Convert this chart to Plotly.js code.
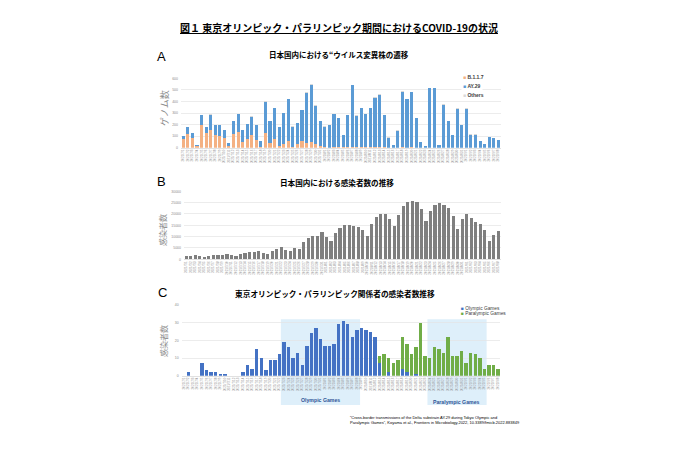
<!DOCTYPE html>
<html>
<head>
<meta charset="utf-8">
<script src="https://cdn.plot.ly/plotly-3.0.1.min.js"></script>
<style>html,body{margin:0;padding:0;background:#fff;}#chart{width:675px;height:450px;}</style>
</head>
<body>
<div id="chart"></div>
<script>
// ---- shared categories (one bar per day) ----
const dates = [
"2021/7/1","2021/7/2","2021/7/3","2021/7/4","2021/7/5","2021/7/6","2021/7/7","2021/7/8","2021/7/9","2021/7/10",
"2021/7/11","2021/7/12","2021/7/13","2021/7/14","2021/7/15","2021/7/16","2021/7/17","2021/7/18","2021/7/19","2021/7/20",
"2021/7/21","2021/7/22","2021/7/23","2021/7/24","2021/7/25","2021/7/26","2021/7/27","2021/7/28","2021/7/29","2021/7/30",
"2021/7/31","2021/8/1","2021/8/2","2021/8/3","2021/8/4","2021/8/5","2021/8/6","2021/8/7","2021/8/8","2021/8/9",
"2021/8/10","2021/8/11","2021/8/12","2021/8/13","2021/8/14","2021/8/15","2021/8/16","2021/8/17","2021/8/18","2021/8/19",
"2021/8/20","2021/8/21","2021/8/22","2021/8/23","2021/8/24","2021/8/25","2021/8/26","2021/8/27","2021/8/28","2021/8/29",
"2021/8/30","2021/8/31","2021/9/1","2021/9/2","2021/9/3","2021/9/4","2021/9/5","2021/9/6","2021/9/7","2021/9/8"];

// ---- Panel A: genomes by lineage ----
const b117 = [75,115,85,15,195,125,155,110,100,85, 18,115,135,50,75,110,65,5,125,40,
  75,18,32,60,5,30,55,40,50,35, 15,3,0,5,5,5,5,5,5,5, 5,5,5,5,5,0,0,0,5,0,
  10,0,0,0,0,0,0,0,0,0, 0,0,0,0,0,0,0,0,0,0];
const ay29 = [30,65,40,10,87,55,132,85,95,65, 22,115,157,100,130,157,130,50,271,187,
  266,159,264,360,177,182,271,435,495,326, 212,179,192,287,252,102,277,535,272,336,
  287,336,425,450,277,88,20,147,480,420, 470,257,50,15,515,515,25,371,227,108,
  337,197,337,113,113,60,35,93,86,68];
const others = [0,0,0,0,3,0,3,0,0,0, 0,0,3,0,0,3,0,0,4,3,
  4,3,4,5,3,3,4,5,5,4, 3,3,3,3,3,3,3,5,3,4, 3,4,5,5,3,2,0,3,5,5,
  5,3,0,0,5,5,0,4,3,2, 3,3,3,2,2,0,0,2,2,2];

// ---- Panel B: daily infections in Japan ----
const cases = [1620,1620,1760,1320,880,1470,2060,2060,2060,2200,
  1760,1320,2200,2940,3090,3090,3680,2790,2200,3530,
  4700,5290,3970,3530,4850,4560,7500,9560,10440,10440,
  12200,10000,8230,11760,13700,15000,15290,14850,14110,12790,
  10440,15580,18820,20140,19850,17640,14700,19700,23670,25140,
  25730,25280,22200,16760,21460,24110,24700,23810,22490,19260,
  13520,17640,19850,18080,16460,15730,12790,8090,10580,12350];

// ---- Panel C: Games-related infections ----
const olympic = [0,2,0,0,7,3,2,2,1,1, 0,0,0,2,6,4,15,10,3,9,
  9,12,19,16,10,13,6,17,24,27, 21,17,17,18,29,31,29,22,26,27,
  26,25,22,7,0,2,0,0,4,2, 0,1,0,0,0,0,0,0,0,0, 0,0,0,0,0,0,0,0,0,0];
const paralympic = [0,0,0,0,0,0,0,0,0,0, 0,0,0,0,0,0,0,0,0,0,
  0,0,0,0,0,0,0,0,0,0, 0,0,0,0,0,0,0,0,0,0,
  0,0,0,4,12,8,7,9,18,16, 12,15,30,11,10,16,15,13,22,11,
  11,14,7,13,12,10,4,6,6,4];

const yTicksA = [0,100,200,300,400,500,600];
const yTicksB = [0,5000,10000,15000,20000,25000,30000];
const yTicksC = [0,10,20,30,40];

const CJK = '"Noto Sans CJK JP", sans-serif';
const LAT = '"Liberation Sans", Arial, sans-serif';
const W = 675, H = 450;
const px = v => v / W, py = v => 1 - v / H;

const traces = [
  {type:'bar', name:'B.1.1.7', x:dates, y:b117, xaxis:'x', yaxis:'y', marker:{color:'#F4B183'}, width:0.68},
  {type:'bar', name:'AY.29', x:dates, y:ay29, xaxis:'x', yaxis:'y', marker:{color:'#5B9BD5'}, width:0.68},
  {type:'bar', name:'Others', x:dates, y:others, xaxis:'x', yaxis:'y', marker:{color:'#D9D9D9'}, width:0.68},
  {type:'bar', name:'感染者数', x:dates, y:cases, xaxis:'x2', yaxis:'y2', marker:{color:'#7F7F7F'}, width:0.7},
  {type:'bar', name:'Olympic Games', x:dates, y:olympic, xaxis:'x3', yaxis:'y3', marker:{color:'#4472C4'}, width:0.75},
  {type:'bar', name:'Paralympic Games', x:dates, y:paralympic, xaxis:'x3', yaxis:'y3', marker:{color:'#70AD47'}, width:0.75}
];

function xAxis(domain) {
  return {domain:domain, type:'category', range:[-0.5, dates.length-0.5], tickmode:'linear', tick0:0, dtick:1,
    tickangle:-90, tickfont:{size:3, color:'#8C8C8C', family:LAT}, ticks:'', showgrid:false,
    showline:true, linecolor:'#D9D9D9', linewidth:0.8, zeroline:false, automargin:false, fixedrange:true};
}
function yAxis(domain, ticks) {
  return {domain:domain, range:[ticks[0], ticks[ticks.length-1]], tickmode:'array', tickvals:ticks,
    ticktext:ticks.map(String),
    tickfont:{size:3.5, color:'#8C8C8C', family:LAT}, ticks:'', showgrid:true, gridcolor:'#E4E4E4', gridwidth:0.7,
    zeroline:false, showline:false, automargin:false, fixedrange:true, ticklabelstandoff:2};
}

const iOS = dates.indexOf('2021/7/23'), iOE = dates.indexOf('2021/8/8');
const iPS = dates.indexOf('2021/8/24'), iPE = dates.indexOf('2021/9/5');

const ann = (x, y, text, size, opts) => Object.assign({xref:'paper', yref:'paper', x:px(x), y:py(y), text:text,
  showarrow:false, font:{size:size, family:CJK, color:'#000'}, xanchor:'center', yanchor:'middle'}, opts||{});

const layout = {
  width:W, height:H, margin:{l:0,r:0,t:0,b:0}, paper_bgcolor:'#fff', plot_bgcolor:'rgba(0,0,0,0)',
  showlegend:false, barmode:'stack', bargap:0.3,
  xaxis: xAxis([px(181), px(500.6)]),
  yaxis: yAxis([py(147.7), py(78.3)], yTicksA),
  xaxis2: Object.assign(xAxis([px(184), px(500.6)]), {anchor:'y2'}),
  yaxis2: Object.assign(yAxis([py(259.3), py(191.3)], yTicksB), {anchor:'x2'}),
  xaxis3: Object.assign(xAxis([px(181.6), px(500.3)]), {anchor:'y3'}),
  yaxis3: Object.assign(yAxis([py(375.7), py(305)], yTicksC), {anchor:'x3'}),
  shapes: [
    {type:'rect', xref:'x3', yref:'paper', x0:iOS-0.7, x1:iOE+0.7, y0:py(405), y1:py(319.3),
      fillcolor:'#DEEFFA', line:{width:0}, layer:'below'},
    {type:'rect', xref:'x3', yref:'paper', x0:iPS-0.5, x1:iPE+0.5, y0:py(405), y1:py(319.3),
      fillcolor:'#DEEFFA', line:{width:0}, layer:'below'}
  ],
  annotations: [
    ann(339, 28, '<b><u>図１ 東京オリンピック・パラリンピック期間におけるCOVID-19の状況</u></b>', 10),
    ann(161.5, 56.5, 'A', 13, {font:{size:13, family:LAT, color:'#000'}}),
    ann(339, 54, '<b>日本国内における“ウイルス変異株の遷移</b>', 7.5),
    ann(161, 181, 'B', 13, {font:{size:13, family:LAT, color:'#000'}}),
    ann(336.7, 182.3, '<b>日本国内における感染者数の推移</b>', 7.6),
    ann(162, 292.5, 'C', 13, {font:{size:13, family:LAT, color:'#000'}}),
    ann(335, 293.3, '<b>東京オリンピック・パラリンピック関係者の感染者数推移</b>', 7.7),
    ann(164, 108, 'ゲノム数', 9, {textangle:-90, font:{size:9, family:CJK, color:'#8C8C8C'}}),
    ann(163, 230, '感染者数', 8, {textangle:-90, font:{size:8, family:CJK, color:'#8C8C8C'}}),
    ann(163, 341, '感染者数', 8, {textangle:-90, font:{size:8, family:CJK, color:'#8C8C8C'}}),
    // legend A
    ann(461, 77, '<span style="color:#F4B183">■</span> <b>B.1.1.7</b>', 5, {xanchor:'left', bgcolor:'#fff', font:{size:5, family:LAT, color:'#404040'}}),
    ann(461, 86, '<span style="color:#5B9BD5">■</span> <b>AY.29</b>', 5, {xanchor:'left', bgcolor:'#fff', font:{size:5, family:LAT, color:'#404040'}}),
    ann(461, 95, '<span style="color:#D9D9D9">■</span> <b>Others</b>', 5, {xanchor:'left', bgcolor:'#fff', font:{size:5, family:LAT, color:'#404040'}}),
    // legend C
    ann(459, 308.3, '<span style="color:#4472C4">■</span> Olympic Games', 4.8, {xanchor:'left', font:{size:4.8, family:LAT, color:'#404040'}}),
    ann(459, 313.8, '<span style="color:#70AD47">■</span> Paralympic Games', 4.8, {xanchor:'left', font:{size:4.8, family:LAT, color:'#404040'}}),
    // shading labels
    ann(320, 400, '<b>Olympic Games</b>', 5.2, {font:{size:5.2, family:LAT, color:'#2F5597'}}),
    ann(457, 401.5, '<b>Paralympic Games</b>', 5.2, {font:{size:5.2, family:LAT, color:'#2F5597'}}),
    // footnote
    ann(348, 419.5, '“Cross-border transmissions of the Delta substrain AY.29 during Tokyo Olympic and<br>Paralympic Games”, Koyama et al., Frontiers in Microbiology,2022, 10.3389/fmicb.2022.883849', 4,
      {xanchor:'left', align:'left', font:{size:4, family:LAT, color:'#000'}})
  ]
};

Plotly.newPlot('chart', traces, layout, {staticPlot:true, displayModeBar:false});
</script>
</body>
</html>
